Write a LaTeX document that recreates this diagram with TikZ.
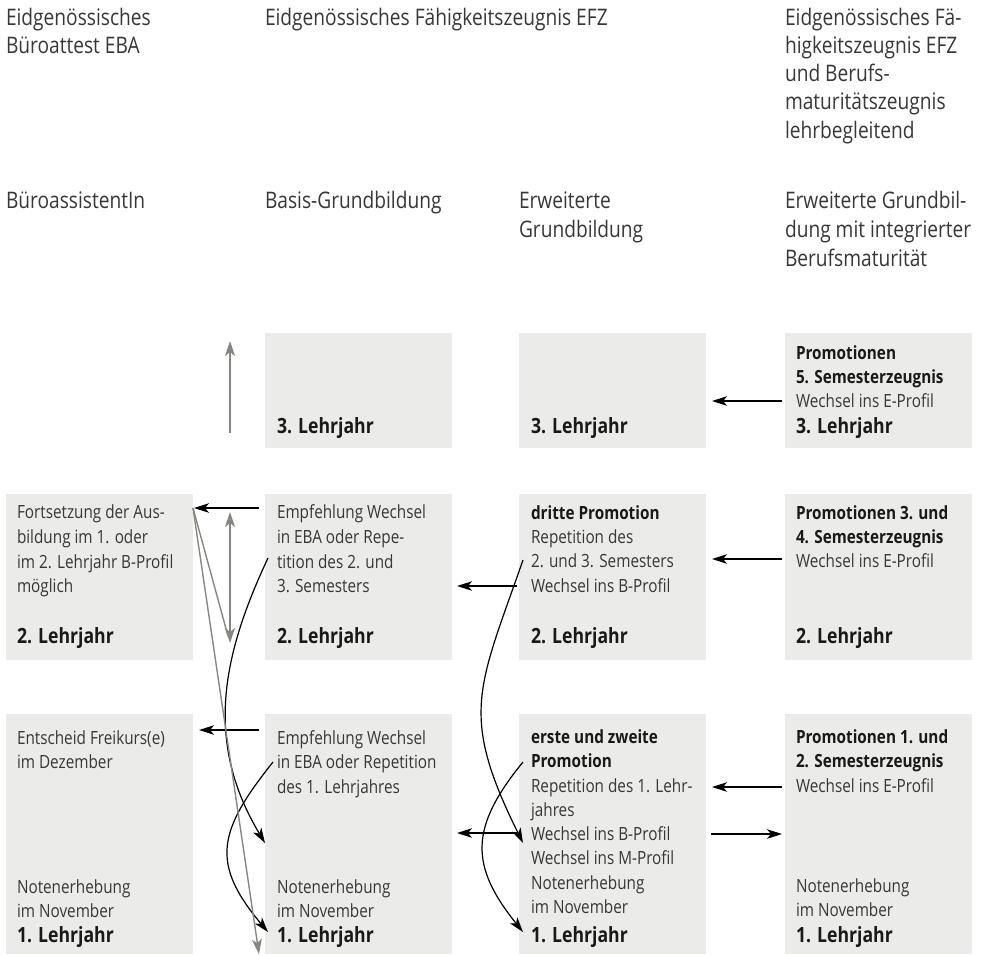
\documentclass[tikz,border=0pt]{standalone}
\usepackage{fontspec}
\setmainfont{Open Sans}[FakeStretch=0.84]
\usetikzlibrary{arrows.meta,calc}
\definecolor{boxgray}{RGB}{235,235,233}
\definecolor{txt}{RGB}{55,55,55}
\definecolor{txtb}{RGB}{25,25,25}
\definecolor{arrgray}{RGB}{135,135,130}
\begin{document}
\begin{tikzpicture}[x=1pt,y=-1pt,
 box/.style={fill=boxgray, draw=none, inner sep=0pt, outer sep=0pt, anchor=north west, minimum width=187pt},
 reg/.style={anchor=base west, inner sep=0pt, outer sep=0pt, text=txt, font=\fontsize{18.2}{22}\selectfont},
 bld/.style={reg, text=txtb, font=\fontsize{18.2}{22}\selectfont\bfseries},
 lj/.style={reg, text=txtb, font=\fontsize{21}{25}\selectfont\bfseries},
 hdr/.style={reg, font=\fontsize{22.8}{27}\selectfont},
 blk/.style={line width=1.2pt, black, -{Stealth[length=15pt,width=9.5pt,inset=4pt]}},
 gry/.style={line width=1.4pt, arrgray},
 gtip/.tip={Stealth[length=15pt,width=10pt,inset=4pt]},
 garr/.style={gry, -gtip},
]
\useasboundingbox (0,0) rectangle (981,955);
% headers
\node[hdr] (h1a) at (6,26) {Eidgenössisches};
\node[hdr] (h1b) at (6,54) {Büroattest EBA};
\node[hdr] (h2) at (265,26) {Eidgenössisches Fähigkeitszeugnis EFZ};
\node[hdr] (h4a) at (785,26) {Eidgenössisches Fä-};
\node[hdr] (h4b) at (785,54) {higkeitszeugnis EFZ};
\node[hdr] (h4c) at (785,82) {und Berufs-};
\node[hdr] (h4d) at (785,110) {maturitätszeugnis};
\node[hdr] (h4e) at (785,138) {lehrbegleitend};
\node[hdr] (s1) at (6,208) {BüroassistentIn};
\node[hdr] (s2) at (265,208) {Basis-Grundbildung};
\node[hdr] (s3a) at (519,208) {Erweiterte};
\node[hdr] (s3b) at (519,237) {Grundbildung};
\node[hdr] (s4a) at (785,208) {Erweiterte Grundbil-};
\node[hdr] (s4b) at (785,237) {dung mit integrierter};
\node[hdr] (s4c) at (785,266) {Berufsmaturität};
% boxes
\node[box, minimum height=115pt] (b32) at (265,333) {};
\node[box, minimum height=115pt] (b33) at (519,333) {};
\node[box, minimum height=115pt] (b34) at (785,333) {};
\node[box, minimum height=166pt] (b21) at (6,494) {};
\node[box, minimum height=166pt] (b22) at (265,494) {};
\node[box, minimum height=166pt] (b23) at (519,494) {};
\node[box, minimum height=166pt] (b24) at (785,494) {};
\node[box, minimum height=240pt] (b11) at (6,714) {};
\node[box, minimum height=240pt] (b12) at (265,714) {};
\node[box, minimum height=240pt] (b13) at (519,714) {};
\node[box, minimum height=240pt] (b14) at (785,714) {};
% row 3 texts
\node[lj] (t32a) at (277,433) {3. Lehrjahr};
\node[lj] (t33a) at (531,433) {3. Lehrjahr};
\node[bld] (t34a) at (796,359) {Promotionen};
\node[bld] (t34b) at (796,383) {5. Semesterzeugnis};
\node[reg] (t34c) at (796,407) {Wechsel ins E-Profil};
\node[lj] (t34d) at (796,433) {3. Lehrjahr};
% row 2 texts
\node[reg] (t21a) at (17,518) {Fortsetzung der Aus-};
\node[reg] (t21b) at (17,543) {bildung im 1. oder};
\node[reg] (t21c) at (17,568) {im 2. Lehrjahr B-Profil};
\node[reg] (t21d) at (17,592) {möglich};
\node[lj] (t21e) at (17,643) {2. Lehrjahr};
\node[reg] (t22a) at (277,518) {Empfehlung Wechsel};
\node[reg] (t22b) at (277,543) {in EBA oder Repe-};
\node[reg] (t22c) at (277,568) {tition des 2. und};
\node[reg] (t22d) at (277,592) {3. Semesters};
\node[lj] (t22e) at (277,643) {2. Lehrjahr};
\node[bld] (t23a) at (531,519) {dritte Promotion};
\node[reg] (t23b) at (531,543) {Repetition des};
\node[reg] (t23c) at (531,567) {2. und 3. Semesters};
\node[reg] (t23d) at (531,592) {Wechsel ins B-Profil};
\node[lj] (t23e) at (531,643) {2. Lehrjahr};
\node[bld] (t24a) at (796,519) {Promotionen 3. und};
\node[bld] (t24b) at (796,543) {4. Semesterzeugnis};
\node[reg] (t24c) at (796,567) {Wechsel ins E-Profil};
\node[lj] (t24d) at (796,643) {2. Lehrjahr};
% row 1 texts
\node[reg] (t11a) at (17,744) {Entscheid Freikurs(e)};
\node[reg] (t11b) at (17,768) {im Dezember};
\node[reg] (t11c) at (17,893) {Notenerhebung};
\node[reg] (t11d) at (17,917) {im November};
\node[lj] (t11e) at (17,942) {1. Lehrjahr};
\node[reg] (t12a) at (277,744) {Empfehlung Wechsel};
\node[reg] (t12b) at (277,768) {in EBA oder Repetition};
\node[reg] (t12c) at (277,793) {des 1. Lehrjahres};
\node[reg] (t12d) at (277,893) {Notenerhebung};
\node[reg] (t12e) at (277,917) {im November};
\node[lj] (t12f) at (277,942) {1. Lehrjahr};
\node[bld] (t13a) at (531,743) {erste und zweite};
\node[bld] (t13b) at (531,767) {Promotion};
\node[reg] (t13c) at (531,792) {Repetition des 1. Lehr-};
\node[reg] (t13d) at (531,816) {jahres};
\node[reg] (t13e) at (531,840) {Wechsel ins B-Profil};
\node[reg] (t13f) at (531,864) {Wechsel ins M-Profil};
\node[reg] (t13g) at (531,889) {Notenerhebung};
\node[reg] (t13h) at (531,913) {im November};
\node[lj] (t13i) at (531,942) {1. Lehrjahr};
\node[bld] (t14a) at (796,743) {Promotionen 1. und};
\node[bld] (t14b) at (796,767) {2. Semesterzeugnis};
\node[reg] (t14c) at (796,792) {Wechsel ins E-Profil};
\node[reg] (t14d) at (796,892) {Notenerhebung};
\node[reg] (t14e) at (796,916) {im November};
\node[lj] (t14f) at (796,942) {1. Lehrjahr};
% straight black arrows
\draw[blk, shorten <=3pt, shorten >=6pt] (b34.west |- 0,401) -- (b33.east |- 0,401);
\draw[blk, shorten <=3pt, shorten >=6pt] (b24.west |- 0,559) -- (b23.east |- 0,559);
\draw[blk, shorten <=2pt, shorten >=5pt] (b23.west |- 0,586) -- (b22.east |- 0,586);
\draw[blk, shorten <=6pt, shorten >=1pt] (b22.west |- 0,508) -- (b21.east |- 0,508);
\draw[blk, shorten <=6pt, shorten >=6pt] (b12.west |- 0,730) -- (b11.east |- 0,730);
\draw[blk, shorten <=3pt, shorten >=6pt] (b14.west |- 0,787) -- (b13.east |- 0,787);
\draw[blk, shorten <=5pt, shorten >=3pt] (b13.east |- 0,834) -- (b14.west |- 0,834);
\draw[blk, shorten <=1pt, shorten >=5pt] (b13.west |- 0,833) -- (b12.east |- 0,833);
% curved black arrows
\coordinate (c1s) at (268,558); \coordinate (c1e) at (265,843);
\draw[blk] (c1s) .. controls (221,658) and (205,743) .. (c1e);
\coordinate (c2s) at (273,762); \coordinate (c2e) at (268,932);
\draw[blk] (c2s) .. controls (218,831) and (210,863) .. (c2e);
\coordinate (c3s) at (523,560); \coordinate (c3e) at (523,843);
\draw[blk] (c3s) .. controls (478,689) and (459,714) .. (c3e);
\coordinate (c4s) at (523,762); \coordinate (c4e) at (523,932);
\draw[blk] (c4s) .. controls (469,828) and (470,866) .. (c4e);
% gray arrows
\coordinate (g1a) at (230,433); \coordinate (g1b) at (230,341);
\draw[garr] (g1a) -- (g1b);
\coordinate (g2a) at (230,643); \coordinate (g2b) at (230,512);
\draw[gry, gtip-gtip] (g2a) -- (g2b);
\coordinate (g3e) at (228,636); \coordinate (g4e) at (259,954);
\draw[gry] (b21.east |- 0,508) -- (g3e);
\draw[garr] (b21.east |- 0,508) -- (g4e);
\end{tikzpicture}
\end{document}
